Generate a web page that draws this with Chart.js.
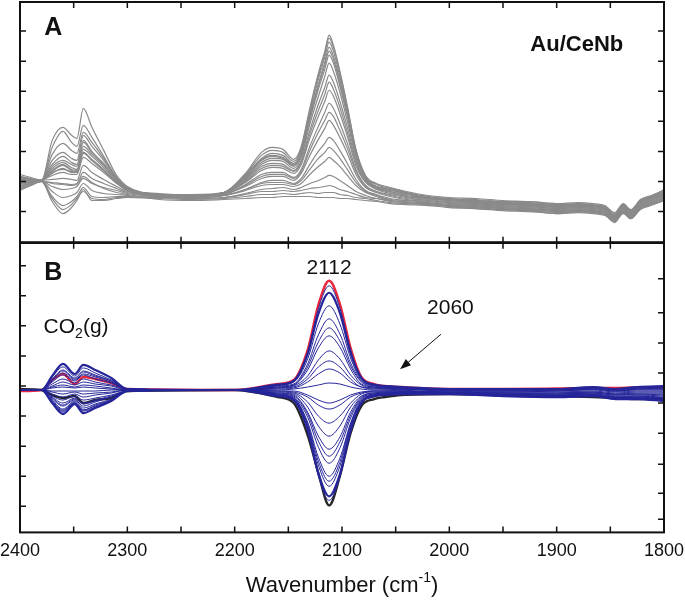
<!DOCTYPE html>
<html>
<head>
<meta charset="utf-8">
<script src="https://cdn.jsdelivr.net/npm/chart.js@4"></script>
<style>
  html, body { margin: 0; padding: 0; background: #fff; }
  #wrap { width: 685px; height: 600px; }
</style>
</head>
<body>
<div id="wrap"><canvas id="spectra" width="685" height="600"></canvas></div>
<script>
// wavenumber grids (cm-1)
const wnA = [2400, 2390, 2380, 2370, 2360, 2352, 2347, 2341, 2333, 2322, 2310, 2300, 2270, 2240, 2210, 2190,
  2175, 2165, 2155, 2145, 2138, 2130, 2122, 2116, 2112, 2108, 2102, 2095, 2087, 2078, 2068, 2055,
  2040, 2020, 2000, 1975, 1950, 1925, 1900, 1880, 1866, 1855, 1846, 1838, 1831, 1822, 1812, 1800];
const wnB = [2400, 2380, 2370, 2360, 2349, 2341, 2330, 2315, 2300, 2200, 2160, 2145, 2132, 2122, 2112, 2102,
  2092, 2082, 2070, 2060, 2045, 2000, 1950, 1900, 1866, 1845, 1825, 1800];

// panel A: raw spectra (grey)
const a01 = [6.0, 6.1, 6.2, 6.9, 7.4, 7.0, 7.0, 8.9, 8.3, 7.3, 6.0, 5.3, 4.8, 4.7, 5.0, 6.9, 9.0, 9.5, 9.3, 8.3, 9.6, 13.4, 16.9, 19.1, 20.7, 19.7, 17.1, 13.6, 9.3, 6.7, 5.9, 5.5, 5.1, 4.7, 4.5, 4.4, 4.2, 4.1, 3.9, 4.0, 3.9, 3.7, 3.0, 3.9, 3.3, 4.3, 4.7, 5.2];
const a02 = [6.2, 6.2, 6.2, 7.1, 7.7, 7.2, 7.1, 9.3, 8.6, 7.5, 6.1, 5.3, 4.9, 4.7, 5.0, 6.8, 8.7, 9.2, 9.0, 8.1, 9.4, 13.2, 16.6, 18.8, 20.4, 19.5, 17.0, 13.5, 9.2, 6.6, 5.8, 5.4, 5.0, 4.6, 4.4, 4.3, 4.1, 4.0, 3.8, 3.9, 3.8, 3.6, 2.9, 3.8, 3.2, 4.2, 4.6, 5.1];
const a03 = [5.8, 6.0, 6.2, 6.7, 7.0, 6.8, 6.8, 8.5, 7.9, 7.0, 5.9, 5.2, 4.7, 4.6, 5.0, 6.7, 8.4, 8.9, 8.7, 7.9, 9.2, 12.9, 16.3, 18.5, 20.0, 19.1, 16.6, 13.3, 9.1, 6.6, 5.6, 5.4, 5.0, 4.6, 4.4, 4.2, 4.1, 4.1, 3.8, 3.9, 3.7, 3.6, 2.7, 3.8, 3.0, 4.2, 4.6, 5.3];
const a04 = [6.4, 6.3, 6.2, 7.4, 8.0, 7.5, 7.3, 9.6, 8.8, 7.7, 6.2, 5.4, 4.8, 4.7, 5.0, 6.6, 8.3, 8.7, 8.5, 7.8, 9.0, 12.6, 15.8, 18.0, 19.5, 18.6, 16.2, 13.0, 9.0, 6.5, 5.6, 5.3, 4.9, 4.5, 4.3, 4.2, 4.0, 3.9, 3.7, 3.8, 3.7, 3.5, 2.8, 3.7, 3.1, 4.1, 4.5, 5.0];
const a05 = [6.1, 6.1, 6.2, 7.6, 8.2, 7.8, 7.6, 10.2, 9.1, 7.8, 6.3, 5.4, 4.8, 4.8, 5.0, 6.4, 8.0, 8.4, 8.3, 7.6, 8.7, 12.2, 15.3, 17.3, 18.7, 17.9, 15.6, 12.6, 8.8, 6.4, 5.5, 5.2, 4.9, 4.5, 4.3, 4.1, 4.0, 3.8, 3.7, 3.7, 3.7, 3.4, 2.6, 3.7, 3.0, 4.1, 4.5, 4.9];
const a06 = [6.6, 6.4, 6.2, 7.0, 7.3, 7.1, 7.0, 9.0, 8.2, 7.2, 6.0, 5.3, 4.7, 4.6, 5.0, 6.3, 7.8, 8.2, 8.1, 7.4, 8.5, 11.8, 14.6, 16.6, 17.9, 17.1, 15.0, 12.1, 8.5, 6.3, 5.5, 5.1, 4.8, 4.4, 4.2, 4.1, 3.9, 3.8, 3.6, 3.7, 3.6, 3.4, 2.7, 3.6, 3.0, 4.0, 4.4, 4.9];
const a07 = [6.4, 6.2, 6.2, 9.5, 11.1, 10.0, 9.6, 11.7, 10.5, 8.6, 6.5, 5.5, 4.8, 4.7, 4.9, 6.2, 7.6, 7.9, 7.8, 7.2, 8.2, 11.2, 13.8, 15.5, 16.7, 16.0, 14.1, 11.5, 8.2, 6.2, 5.4, 5.1, 4.7, 4.4, 4.2, 4.0, 3.9, 3.7, 3.6, 3.6, 3.6, 3.3, 2.5, 3.6, 2.9, 4.0, 4.4, 4.8];
const a08 = [6.6, 6.3, 6.2, 10.2, 11.5, 10.7, 10.4, 13.4, 11.5, 9.2, 6.7, 5.6, 4.8, 4.7, 4.9, 6.0, 7.2, 7.5, 7.4, 6.9, 7.8, 10.4, 12.6, 14.1, 15.2, 14.6, 12.9, 10.6, 7.7, 6.0, 5.3, 4.9, 4.6, 4.3, 4.1, 4.0, 3.8, 3.7, 3.5, 3.6, 3.5, 3.3, 2.6, 3.5, 2.9, 3.9, 4.3, 4.8];
const a09 = [6.3, 6.2, 6.2, 8.2, 9.0, 8.4, 8.2, 10.7, 9.6, 8.2, 6.4, 5.4, 4.7, 4.6, 4.8, 5.8, 6.8, 7.0, 7.0, 6.5, 7.3, 9.6, 11.6, 13.0, 13.9, 13.4, 11.9, 9.9, 7.3, 5.7, 5.1, 4.8, 4.5, 4.2, 4.0, 3.9, 3.7, 3.6, 3.4, 3.5, 3.4, 3.2, 2.4, 3.4, 2.8, 3.8, 4.2, 4.7];
const a10 = [5.6, 5.9, 6.2, 6.3, 6.4, 6.3, 6.2, 7.7, 7.0, 6.3, 5.6, 5.1, 4.7, 4.6, 4.8, 5.6, 6.4, 6.6, 6.6, 6.2, 6.9, 8.7, 10.3, 11.4, 12.2, 11.7, 10.5, 8.9, 6.8, 5.5, 5.0, 4.6, 4.3, 4.1, 3.9, 3.8, 3.6, 3.5, 3.3, 3.4, 3.3, 3.1, 2.4, 3.3, 2.7, 3.7, 4.1, 4.6];
const a11 = [5.4, 5.8, 6.1, 6.0, 5.9, 5.8, 5.9, 7.0, 6.4, 5.9, 5.4, 5.0, 4.6, 4.5, 4.7, 5.3, 6.0, 6.2, 6.2, 5.9, 6.4, 7.8, 9.1, 9.9, 10.5, 10.2, 9.2, 7.9, 6.3, 5.2, 4.8, 4.4, 4.2, 4.0, 3.8, 3.7, 3.5, 3.4, 3.2, 3.3, 3.2, 3.0, 2.3, 3.2, 2.6, 3.6, 4.0, 4.5];
const a12 = [5.2, 5.7, 6.1, 5.6, 5.3, 5.4, 5.6, 6.4, 5.9, 5.5, 5.2, 4.9, 4.6, 4.5, 4.7, 5.2, 5.7, 5.8, 5.8, 5.6, 5.9, 6.8, 7.6, 8.1, 8.5, 8.2, 7.6, 6.7, 5.7, 5.0, 4.6, 4.2, 4.1, 3.9, 3.7, 3.6, 3.4, 3.3, 3.1, 3.2, 3.1, 2.9, 2.3, 3.1, 2.6, 3.5, 3.9, 4.4];
const a13 = [5.5, 5.8, 6.1, 4.6, 3.7, 4.1, 4.6, 5.5, 4.6, 4.5, 4.6, 4.6, 4.5, 4.4, 4.5, 4.9, 5.3, 5.4, 5.5, 5.3, 5.5, 5.9, 6.2, 6.5, 6.7, 6.6, 6.2, 5.7, 5.1, 4.7, 4.4, 4.2, 4.0, 3.9, 3.7, 3.6, 3.4, 3.3, 3.1, 3.2, 3.1, 2.9, 2.2, 3.1, 2.5, 3.5, 3.9, 4.4];
const a14 = [5.3, 5.7, 6.1, 4.1, 2.9, 3.5, 4.2, 5.3, 4.2, 4.2, 4.4, 4.5, 4.5, 4.4, 4.5, 4.8, 5.1, 5.1, 5.2, 5.1, 5.2, 5.4, 5.5, 5.6, 5.7, 5.6, 5.3, 5.1, 4.8, 4.5, 4.4, 4.1, 4.0, 3.8, 3.6, 3.5, 3.3, 3.2, 3.0, 3.1, 3.0, 2.8, 2.1, 3.0, 2.4, 3.4, 3.8, 4.3];
const a15 = [5.9, 6.0, 6.1, 4.4, 3.3, 3.8, 4.4, 5.1, 4.4, 4.3, 4.5, 4.5, 4.4, 4.3, 4.4, 4.6, 4.8, 4.8, 4.9, 4.8, 4.9, 5.0, 4.9, 5.0, 5.0, 5.0, 4.8, 4.7, 4.5, 4.4, 4.2, 4.0, 3.9, 3.8, 3.6, 3.4, 3.3, 3.2, 2.9, 3.1, 3.0, 2.8, 2.0, 3.0, 2.4, 3.4, 3.8, 4.2];
const a16 = [6.8, 6.5, 6.2, 5.9, 5.8, 5.7, 5.8, 6.6, 6.0, 5.4, 5.0, 4.8, 4.3, 4.2, 4.3, 4.4, 4.5, 4.5, 4.6, 4.6, 4.6, 4.6, 4.5, 4.5, 4.5, 4.5, 4.4, 4.4, 4.3, 4.2, 4.1, 3.9, 3.8, 3.7, 3.5, 3.4, 3.2, 3.1, 2.9, 3.0, 2.9, 2.7, 2.1, 2.9, 2.4, 3.3, 3.7, 4.2];
const a17 = [6.2, 6.1, 6.2, 7.8, 8.6, 8.0, 7.8, 10.0, 9.0, 7.9, 6.3, 5.4, 4.8, 4.7, 4.9, 6.1, 7.4, 7.7, 7.6, 7.1, 8.0, 10.8, 13.2, 14.8, 16.0, 15.3, 13.5, 11.0, 8.0, 6.1, 5.4, 5.0, 4.6, 4.4, 4.2, 4.1, 3.9, 3.8, 3.6, 3.7, 3.7, 3.4, 2.7, 3.7, 3.0, 4.0, 4.4, 4.9];
const a18 = [6.0, 6.0, 6.2, 7.2, 7.8, 7.3, 7.2, 9.0, 8.2, 7.2, 6.0, 5.2, 4.7, 4.6, 4.8, 5.7, 6.6, 6.8, 6.8, 6.4, 7.1, 9.2, 11.0, 12.2, 13.0, 12.6, 11.2, 9.4, 7.1, 5.6, 5.1, 4.7, 4.4, 4.2, 4.0, 3.9, 3.7, 3.6, 3.4, 3.5, 3.4, 3.2, 2.4, 3.4, 2.8, 3.8, 4.2, 4.7];
const a19 = [5.7, 5.9, 6.1, 5.1, 4.5, 4.7, 5.0, 5.9, 5.2, 4.9, 4.8, 4.7, 4.6, 4.5, 4.7, 5.3, 5.9, 6.0, 6.0, 5.8, 6.2, 7.3, 8.4, 9.0, 9.5, 9.2, 8.4, 7.3, 6.0, 5.1, 4.7, 4.3, 4.2, 4.0, 3.8, 3.7, 3.5, 3.4, 3.2, 3.3, 3.2, 3.0, 2.3, 3.2, 2.6, 3.6, 4.0, 4.5];
const a20 = [6.5, 6.3, 6.2, 8.8, 9.9, 9.2, 8.9, 11.0, 10.0, 8.4, 6.5, 5.5, 4.8, 4.7, 5.0, 6.5, 8.2, 8.6, 8.4, 7.7, 8.9, 12.4, 15.6, 17.7, 19.1, 18.3, 15.9, 12.8, 8.9, 6.5, 5.6, 5.3, 4.9, 4.5, 4.3, 4.2, 4.0, 3.9, 3.7, 3.8, 3.7, 3.5, 2.7, 3.7, 3.1, 4.1, 4.5, 5.0];

// panel B: difference spectra (blue), first (red) and last (black)
const b01 = [0, 0, 1.1, 2.0, 1.2, 1.9, 1.5, 0.9, 0.1, 0, 0.6, 0.9, 3.8, 8.1, 10.4, 8.2, 4.0, 1.2, 0.6, 0.4, 0.3, 0.1, 0.1, 0.1, 0.3, 0.1, 0.3, 0.3];
const b02 = [0, 0, 1.4, 2.6, 1.6, 2.5, 2.0, 1.2, 0.1, 0, 0.5, 0.9, 3.6, 7.6, 9.7, 7.7, 3.7, 1.2, 0.5, 0.4, 0.3, 0.1, 0.1, 0.1, 0.3, 0.1, 0.3, 0.4];
const b03 = [0, 0, 1.3, 2.3, 1.4, 2.2, 1.7, 1.0, 0.1, 0, 0.5, 0.8, 3.1, 6.6, 8.4, 6.6, 3.2, 1.0, 0.5, 0.3, 0.2, 0.1, 0.0, 0.1, 0.2, 0.0, 0.2, 0.3];
const b04 = [0, 0, 1.0, 1.9, 1.1, 1.8, 1.4, 0.9, 0.1, 0, 0.4, 0.6, 2.6, 5.5, 7.1, 5.6, 2.7, 0.9, 0.4, 0.3, 0.2, 0.0, 0.0, 0.0, 0.2, 0.0, 0.1, 0.2];
const b05 = [0, 0, 0.9, 1.7, 1.0, 1.6, 1.3, 0.8, 0.1, 0, 0.3, 0.5, 2.3, 4.8, 6.2, 4.9, 2.4, 0.8, 0.3, 0.2, 0.1, 0.0, 0.0, 0.0, 0.1, -0.1, 0.1, 0.1];
const b06 = [0, 0, 0.8, 1.5, 0.9, 1.5, 1.1, 0.7, 0.1, 0, 0.3, 0.5, 2.0, 4.2, 5.4, 4.3, 2.1, 0.6, 0.3, 0.2, 0.1, 0.0, -0.1, 0.0, 0.1, -0.1, 0.1, 0.1];
const b07 = [0, 0, 0.6, 1.1, 0.7, 1.1, 0.8, 0.5, 0.1, 0, 0.2, 0.4, 1.4, 3.0, 3.9, 3.1, 1.5, 0.5, 0.2, 0.2, 0.1, -0.1, -0.1, -0.1, 0.1, -0.1, 0.0, 0.0];
const b08 = [0, 0, 0.4, 0.8, 0.5, 0.8, 0.6, 0.4, 0.0, 0, 0.2, 0.3, 1.1, 2.3, 2.9, 2.3, 1.1, 0.3, 0.2, 0.1, 0.1, -0.1, -0.2, -0.1, 0.0, -0.2, -0.1, -0.1];
const b09 = [0, 0, 0.3, 0.5, 0.3, 0.5, 0.4, 0.2, 0.0, 0, 0.1, 0.2, 0.8, 1.6, 2.1, 1.7, 0.8, 0.3, 0.1, 0.1, 0.0, -0.2, -0.2, -0.2, -0.1, -0.3, -0.2, -0.2];
const b10 = [0, 0, 0.2, 0.3, 0.2, 0.3, 0.2, 0.1, 0.0, 0, 0.0, 0.1, 0.3, 0.5, 0.7, 0.6, 0.3, 0.1, 0.0, 0.0, -0.1, -0.2, -0.3, -0.3, -0.2, -0.4, -0.3, -0.3];
const b11 = [0, 0, -0.1, -0.1, -0.1, -0.1, -0.1, 0.0, 0.0, 0, -0.1, -0.1, -0.5, -1.0, -1.3, -1.0, -0.5, -0.2, -0.1, -0.1, -0.1, -0.2, -0.3, -0.3, -0.2, -0.4, -0.4, -0.4];
const b12 = [0, 0, -0.2, -0.4, -0.2, -0.4, -0.3, -0.2, 0.0, 0, -0.1, -0.2, -0.7, -1.5, -1.9, -1.5, -0.7, -0.3, -0.1, -0.1, -0.1, -0.3, -0.3, -0.4, -0.3, -0.5, -0.4, -0.5];
const b13 = [0, 0, -0.4, -0.7, -0.4, -0.7, -0.5, -0.3, 0.0, 0, -0.2, -0.3, -1.2, -2.6, -3.3, -2.6, -1.3, -0.4, -0.2, -0.2, -0.2, -0.3, -0.4, -0.4, -0.3, -0.5, -0.5, -0.6];
const b14 = [0, 0, -0.6, -1.0, -0.6, -1.0, -0.8, -0.5, -0.1, 0, -0.3, -0.4, -1.7, -3.6, -4.6, -3.6, -1.7, -0.6, -0.3, -0.2, -0.2, -0.3, -0.4, -0.5, -0.4, -0.6, -0.6, -0.7];
const b15 = [0, 0, -0.7, -1.3, -0.8, -1.3, -1.0, -0.6, -0.1, 0, -0.3, -0.5, -2.2, -4.6, -5.9, -4.7, -2.2, -0.7, -0.3, -0.3, -0.2, -0.3, -0.5, -0.5, -0.4, -0.7, -0.6, -0.8];
const b16 = [0, 0, -0.8, -1.5, -0.9, -1.4, -1.1, -0.7, -0.1, 0, -0.4, -0.6, -2.4, -5.1, -6.6, -5.2, -2.5, -0.8, -0.4, -0.3, -0.2, -0.3, -0.5, -0.6, -0.5, -0.7, -0.7, -0.8];
const b17 = [0, 0, -0.9, -1.6, -1.0, -1.6, -1.2, -0.7, -0.1, 0, -0.4, -0.7, -2.7, -5.7, -7.3, -5.8, -2.8, -0.9, -0.4, -0.3, -0.3, -0.4, -0.5, -0.6, -0.5, -0.8, -0.7, -0.9];
const b18 = [0, 0, -1.0, -1.9, -1.1, -1.8, -1.4, -0.9, -0.1, 0, -0.5, -0.8, -3.2, -6.7, -8.6, -6.8, -3.3, -1.0, -0.5, -0.4, -0.3, -0.4, -0.5, -0.6, -0.5, -0.8, -0.8, -1.0];
const b19 = [0, 0, -1.1, -2.0, -1.2, -2.0, -1.5, -1.0, -0.1, 0, -0.5, -0.8, -3.4, -7.1, -9.1, -7.2, -3.4, -1.1, -0.5, -0.4, -0.3, -0.4, -0.6, -0.6, -0.5, -0.8, -0.8, -1.0];
const b20 = [0, 0, -1.2, -2.2, -1.3, -2.1, -1.7, -1.0, -0.1, 0, -0.5, -0.9, -3.6, -7.5, -9.6, -7.6, -3.6, -1.2, -0.5, -0.4, -0.3, -0.4, -0.6, -0.7, -0.6, -0.9, -0.8, -1.0];
const b21 = [0, 0, -1.3, -2.4, -1.4, -2.3, -1.8, -1.1, -0.1, 0, -0.6, -1.0, -3.9, -8.3, -10.6, -8.4, -4.0, -1.3, -0.6, -0.5, -0.4, -0.4, -0.6, -0.7, -0.6, -0.9, -0.9, -1.1];
const b22 = [0, 0, -1.2, -2.1, -1.3, -2.0, -1.6, -1.0, -0.1, 0, -0.6, -1.1, -4.1, -8.6, -11.0, -8.7, -4.2, -1.4, -0.7, -0.5, -0.4, -0.4, -0.6, -0.7, -0.6, -0.9, -0.9, -1.1];
const redB = [-0.1, 0, 1.0, 1.6, 0.6, 1.3, 1.1, 0.7, 0.1, 0, 0.6, 1.0, 4.0, 8.5, 10.9, 8.6, 4.2, 1.3, 0.6, 0.4, 0.3, 0.1, 0.1, 0.15, 0.2, 0.2, 0.25, 0.25];
const blackB = [0.1, 0, -0.5, -0.8, -0.6, -1.3, -1.0, -0.8, -0.1, 0, -0.7, -1.3, -4.5, -8.3, -11.5, -8.6, -4.3, -1.6, -0.9, -0.7, -0.5, -0.4, -0.5, -0.6, -0.7, -0.8, -0.9, -0.9];

// tick positions (no labels on y)
const xTickLabels = [2400, 2300, 2200, 2100, 2000, 1900, 1800];
const xMinorTicks = [2400, 2350, 2300, 2250, 2200, 2150, 2100, 2050, 2000, 1950, 1900, 1850, 1800];
const yTicksA = [3.1, 6.1, 9.1, 12.1, 15.1, 18.1, 21.1];
const yTicksBLeft = [12.4, 9.4, 6.4, 3.4, 0.4, -2.6, -5.6, -8.6, -11.6];
const yTicksBRight = [11.1, 7.7, 4.7, 1.7, -1.3, -4.3, -7.4, -10.3, -12.9];

const FONT = '"Liberation Sans", Arial, Helvetica, sans-serif';
const INK = '#111';

function makeLine(xs, ys, axis, color, width) {
    return {
        data: xs.map((x, i) => ({ x: x, y: ys[i] })),
        yAxisID: axis,
        borderColor: color,
        borderWidth: width,
        pointRadius: 0,
        fill: false,
        tension: 0.4,
        cubicInterpolationMode: 'monotone'
    };
}

const datasets = [];
const greys = [a01, a02, a03, a04, a05, a06, a07, a08, a09, a10, a11, a12, a13, a14, a15, a16, a17, a18, a19, a20];
greys.forEach(s => {
    datasets.push(makeLine(wnA, s, 'yA', '#8a8a8a', 1.2));
});
const blues = [b01, b02, b03, b04, b05, b06, b07, b08, b09, b10, b11, b12, b13, b14, b15, b16, b17, b18, b19, b20, b21, b22];
blues.forEach((s, i) => {
    const outer = (i === 1 || i === blues.length - 2);
    datasets.push(makeLine(wnB, s, 'yB', '#26269a', outer ? 2.2 : 1));
});
datasets.push(makeLine(wnB, redB, 'yB', '#e8263c', 2.4));
datasets.push(makeLine(wnB, blackB, 'yB', '#262626', 2.4));

// frames and inward ticks
const frameTicks = {
    id: 'frameTicks',
    afterDatasetsDraw(chart) {
        const { ctx, scales } = chart;
        const x = scales.x, yA = scales.yA, yB = scales.yB;
        const L = x.left, R = x.right;
        const len = 6;
        ctx.save();
        ctx.strokeStyle = INK;
        ctx.lineWidth = 1.5;
        ctx.beginPath();
        xMinorTicks.forEach(v => {
            const px = x.getPixelForValue(v);
            ctx.moveTo(px, yA.top); ctx.lineTo(px, yA.top + len);
            ctx.moveTo(px, yA.bottom); ctx.lineTo(px, yA.bottom - len);
            ctx.moveTo(px, yB.top); ctx.lineTo(px, yB.top + len);
            ctx.moveTo(px, yB.bottom); ctx.lineTo(px, yB.bottom - len);
        });
        yTicksA.forEach(v => {
            const py = yA.getPixelForValue(v);
            ctx.moveTo(L, py); ctx.lineTo(L + len, py);
            ctx.moveTo(R, py); ctx.lineTo(R - len, py);
        });
        yTicksBLeft.forEach(v => {
            const py = yB.getPixelForValue(v);
            ctx.moveTo(L, py); ctx.lineTo(L + len, py);
        });
        yTicksBRight.forEach(v => {
            const py = yB.getPixelForValue(v);
            ctx.moveTo(R, py); ctx.lineTo(R - len, py);
        });
        ctx.stroke();
        ctx.lineWidth = 2;
        ctx.strokeRect(L, yA.top, R - L, yA.bottom - yA.top);
        ctx.strokeRect(L, yB.top, R - L, yB.bottom - yB.top);
        ctx.lineWidth = 2.5;
        ctx.beginPath();
        ctx.moveTo(L, yA.bottom); ctx.lineTo(R, yA.bottom);
        ctx.stroke();
        ctx.restore();
    }
};

// panel letters, peak labels, arrow and axis title
const annotations = {
    id: 'annotations',
    afterDraw(chart) {
        const { ctx, scales } = chart;
        const x = scales.x, yA = scales.yA, yB = scales.yB;
        ctx.save();
        ctx.fillStyle = INK;
        ctx.textBaseline = 'middle';
        ctx.textAlign = 'center';
        ctx.font = 'bold 25px ' + FONT;
        ctx.fillText('A', x.getPixelForValue(2369), yA.getPixelForValue(21.4));
        ctx.fillText('B', x.getPixelForValue(2369), yB.getPixelForValue(11.7));

        ctx.font = 'bold 22px ' + FONT;
        ctx.textAlign = 'right';
        ctx.fillText('Au/CeNb', x.getPixelForValue(1838), yA.getPixelForValue(19.7));

        ctx.font = '21px ' + FONT;
        ctx.textAlign = 'center';
        ctx.fillText('2112', x.getPixelForValue(2112), yB.getPixelForValue(12.15));
        ctx.fillText('2060', x.getPixelForValue(1999), yB.getPixelForValue(8.15));

        // CO2(g) with subscript
        ctx.textAlign = 'left';
        ctx.textBaseline = 'alphabetic';
        let cx = x.getPixelForValue(2378);
        const cy = yB.getPixelForValue(5.7);
        ctx.fillText('CO', cx, cy);
        cx += ctx.measureText('CO').width;
        ctx.font = '14px ' + FONT;
        ctx.fillText('2', cx, cy + 5);
        cx += ctx.measureText('2').width;
        ctx.font = '21px ' + FONT;
        ctx.fillText('(g)', cx, cy);

        // arrow pointing at the 2060 shoulder
        const x0 = x.getPixelForValue(2007.7), y0 = yB.getPixelForValue(5.57);
        const x1 = x.getPixelForValue(2045.9), y1 = yB.getPixelForValue(2.07);
        const ang = Math.atan2(y1 - y0, x1 - x0);
        ctx.strokeStyle = INK;
        ctx.lineWidth = 1;
        ctx.beginPath();
        ctx.moveTo(x0, y0);
        ctx.lineTo(x1 - 8 * Math.cos(ang), y1 - 8 * Math.sin(ang));
        ctx.stroke();
        ctx.beginPath();
        ctx.moveTo(x1, y1);
        ctx.lineTo(x1 - 11 * Math.cos(ang) + 4 * Math.sin(ang), y1 - 11 * Math.sin(ang) - 4 * Math.cos(ang));
        ctx.lineTo(x1 - 11 * Math.cos(ang) - 4 * Math.sin(ang), y1 - 11 * Math.sin(ang) + 4 * Math.cos(ang));
        ctx.closePath();
        ctx.fill();

        // x axis title with superscript
        ctx.font = '22px ' + FONT;
        const part1 = 'Wavenumber (cm', sup = '-1', part2 = ')';
        const w1 = ctx.measureText(part1).width;
        const w3 = ctx.measureText(part2).width;
        ctx.font = '14px ' + FONT;
        const w2 = ctx.measureText(sup).width;
        let tx = (x.left + x.right) / 2 - (w1 + w2 + w3) / 2;
        const ty = 592;
        ctx.font = '22px ' + FONT;
        ctx.fillText(part1, tx, ty);
        tx += w1;
        ctx.font = '14px ' + FONT;
        ctx.fillText(sup, tx, ty - 10);
        tx += w2;
        ctx.font = '22px ' + FONT;
        ctx.fillText(part2, tx, ty);
        ctx.restore();
    }
};

const hiddenY = (min, max, weight) => ({
    type: 'linear',
    position: 'left',
    stack: 'panels',
    stackWeight: weight,
    min: min,
    max: max,
    display: true,
    ticks: { display: false },
    grid: { display: false, drawTicks: false },
    border: { display: false }
});

new Chart(document.getElementById('spectra').getContext('2d'), {
    type: 'line',
    data: { datasets: datasets },
    options: {
        responsive: false,
        animation: false,
        layout: { padding: { top: 2, left: 20, right: 21, bottom: 30 } },
        plugins: { legend: { display: false }, tooltip: { enabled: false } },
        scales: {
            x: {
                type: 'linear',
                reverse: true,
                min: 1800,
                max: 2400,
                grid: { display: false, drawTicks: false },
                border: { display: false },
                afterBuildTicks: axis => { axis.ticks = xTickLabels.map(v => ({ value: v })); },
                afterFit: axis => { axis.paddingLeft = 0; axis.paddingRight = 0; },
                ticks: {
                    color: INK,
                    padding: 8,
                    maxRotation: 0,
                    autoSkip: false,
                    font: { family: FONT, size: 18 },
                    callback: v => String(v)
                }
            },
            // bottom panel first: the stack is laid out from the bottom up
            yB: hiddenY(-14.2, 14.7, 289),
            yA: hiddenY(0, 24, 240)
        }
    },
    plugins: [frameTicks, annotations]
});
</script>
</body>
</html>
